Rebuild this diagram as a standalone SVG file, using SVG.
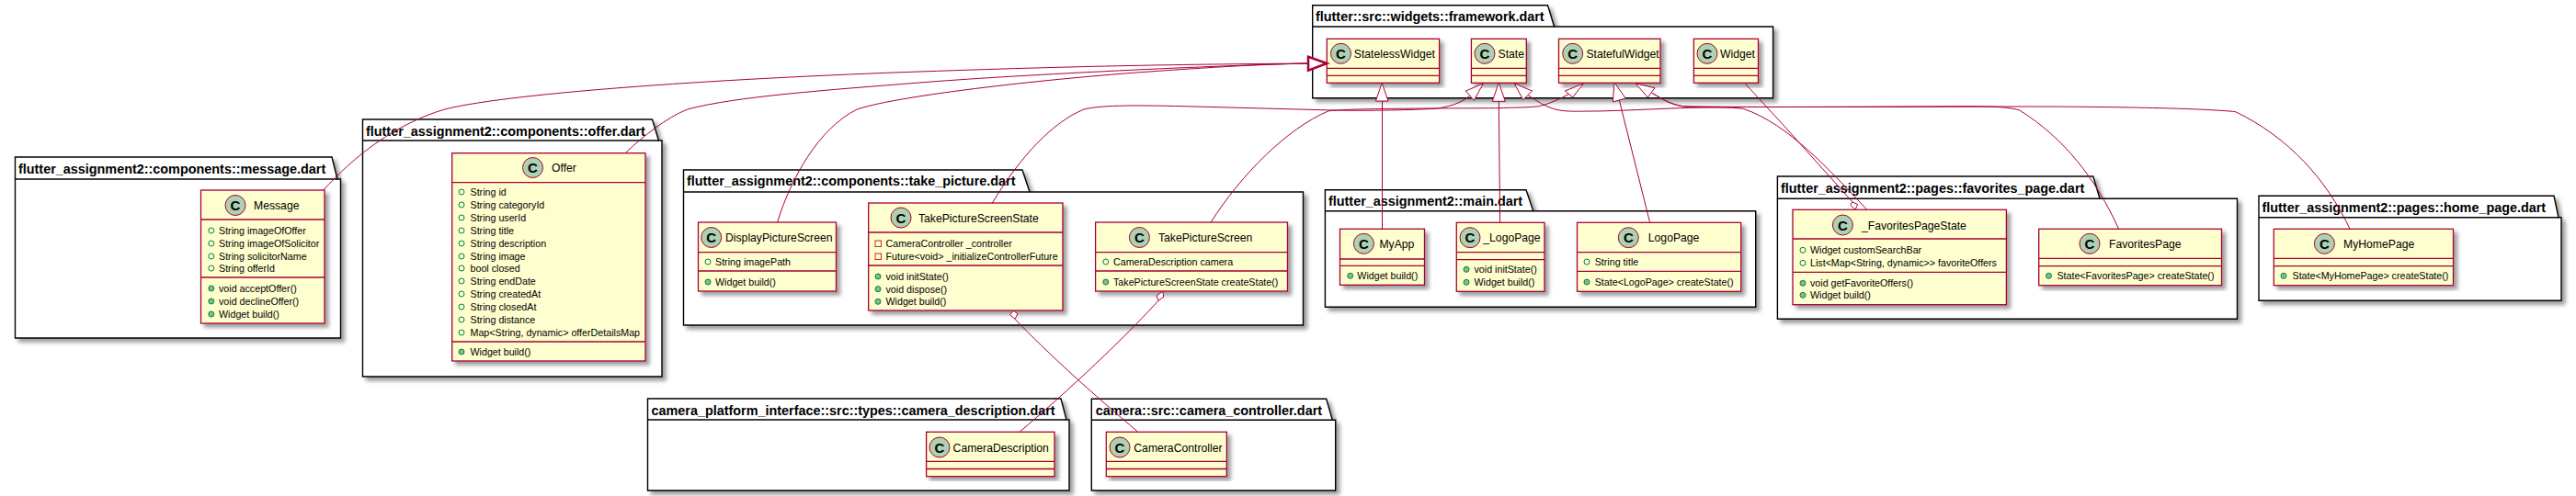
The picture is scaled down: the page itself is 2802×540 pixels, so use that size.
<svg xmlns="http://www.w3.org/2000/svg" width="2802" height="540" viewBox="0 0 2802 540">
<defs><filter id="sh" x="-5%" y="-5%" width="115%" height="115%"><feDropShadow dx="4" dy="4" stdDeviation="2" flood-color="#000" flood-opacity="0.38"/></filter></defs>
<style>
text{font-family:"Liberation Sans",Arial,sans-serif;fill:#000}
.pk{fill:#fff;stroke:#000;stroke-width:1.4;filter:url(#sh)}
.pl{fill:none;stroke:#000;stroke-width:1.4}
.pt{font-size:14.4px;font-weight:bold}
.cb{fill:#FEFECE;stroke:#A80036;stroke-width:1.3;filter:url(#sh)}
.d{stroke:#A80036;stroke-width:1.3;fill:none}
.ci{fill:#ADD1B2;stroke:#A80036;stroke-width:1}
.cl{font-size:15px;font-weight:bold;text-anchor:middle}
.n{font-size:12.2px}
.r{font-size:10.7px}
.a{fill:none;stroke:#038048;stroke-width:1}
.m{fill:#84BE84;stroke:#038048;stroke-width:1}
.p{fill:none;stroke:#C82930;stroke-width:1}
.e{fill:none;stroke:#A80036;stroke-width:1}
.h{fill:#fff;stroke:#A80036;stroke-width:1}
</style>
<g id="pkg-message"><path class="pk" d="M16.5,171H361L367,195H370.5V368H16.5Z"/><path class="pl" d="M16.5,195H367"/><text class="pt" x="20" y="188.5">flutter_assignment2::components::message.dart</text></g>
<g id="class-Message"><rect class="cb" x="218.5" y="207" width="134.5" height="145"/><path class="d" d="M218.5,239H353M218.5,302H353"/><circle class="ci" cx="256" cy="223.5" r="11"/><text class="cl" x="256" y="229">C</text><text class="n" x="276" y="228">Message</text>
<circle class="a" cx="229.8" cy="251" r="3"/><text class="r" x="238" y="255">String imageOfOffer</text><circle class="a" cx="229.8" cy="265" r="3"/><text class="r" x="238" y="269">String imageOfSolicitor</text><circle class="a" cx="229.8" cy="279" r="3"/><text class="r" x="238" y="283">String solicitorName</text><circle class="a" cx="229.8" cy="292" r="3"/><text class="r" x="238" y="296">String offerId</text>
<circle class="m" cx="229.8" cy="314" r="3"/><text class="r" x="238" y="318">void acceptOffer()</text><circle class="m" cx="229.8" cy="328" r="3"/><text class="r" x="238" y="332">void declineOffer()</text><circle class="m" cx="229.8" cy="342" r="3"/><text class="r" x="238" y="346">Widget build()</text></g>

<g id="pkg-offer"><path class="pk" d="M394.5,130H709.5L716.5,153H720V410H394.5Z"/><path class="pl" d="M394.5,153H716.5"/><text class="pt" x="398" y="147.5">flutter_assignment2::components::offer.dart</text></g>
<g id="class-Offer"><rect class="cb" x="491.7" y="166.7" width="210.3" height="226.3"/><path class="d" d="M491.7,198.7H702M491.7,372H702"/><circle class="ci" cx="579.5" cy="182.5" r="11"/><text class="cl" x="579.5" y="188">C</text><text class="n" x="600" y="187">Offer</text>
<circle class="a" cx="502" cy="209" r="3"/><text class="r" x="511.5" y="213">String id</text><circle class="a" cx="502" cy="223" r="3"/><text class="r" x="511.5" y="227">String categoryId</text><circle class="a" cx="502" cy="237" r="3"/><text class="r" x="511.5" y="241">String userId</text><circle class="a" cx="502" cy="251" r="3"/><text class="r" x="511.5" y="255">String title</text><circle class="a" cx="502" cy="265" r="3"/><text class="r" x="511.5" y="269">String description</text><circle class="a" cx="502" cy="279" r="3"/><text class="r" x="511.5" y="283">String image</text><circle class="a" cx="502" cy="292" r="3"/><text class="r" x="511.5" y="296">bool closed</text><circle class="a" cx="502" cy="306" r="3"/><text class="r" x="511.5" y="310">String endDate</text><circle class="a" cx="502" cy="320" r="3"/><text class="r" x="511.5" y="324">String createdAt</text><circle class="a" cx="502" cy="334" r="3"/><text class="r" x="511.5" y="338">String closedAt</text><circle class="a" cx="502" cy="348" r="3"/><text class="r" x="511.5" y="352">String distance</text><circle class="a" cx="502" cy="362" r="3"/><text class="r" x="511.5" y="366">Map&lt;String, dynamic&gt; offerDetailsMap</text>
<circle class="m" cx="502" cy="383" r="3"/><text class="r" x="511.5" y="387">Widget build()</text></g>

<g id="pkg-take-picture"><path class="pk" d="M743.5,185H1112L1120,209H1417.5V354H743.5Z"/><path class="pl" d="M743.5,209H1120"/><text class="pt" x="747" y="202">flutter_assignment2::components::take_picture.dart</text></g>
<g id="class-DisplayPictureScreen"><rect class="cb" x="759.5" y="242" width="150" height="75"/><path class="d" d="M759.5,274.7H909.5M759.5,295H909.5"/><circle class="ci" cx="773.7" cy="258.5" r="11"/><text class="cl" x="773.7" y="264">C</text><text class="n" x="789" y="263">DisplayPictureScreen</text>
<circle class="a" cx="770" cy="285" r="3"/><text class="r" x="778" y="289">String imagePath</text><circle class="m" cx="770" cy="307" r="3"/><text class="r" x="778" y="311">Widget build()</text></g>
<g id="class-TakePictureScreenState"><rect class="cb" x="944.7" y="221" width="211.3" height="117"/><path class="d" d="M944.7,253H1156M944.7,289H1156"/><circle class="ci" cx="980" cy="237" r="11"/><text class="cl" x="980" y="242.5">C</text><text class="n" x="999" y="241.5">TakePictureScreenState</text>
<rect class="p" x="952" y="262" width="6.5" height="6.5"/><text class="r" x="963.5" y="269.3">CameraController _controller</text><rect class="p" x="952" y="276" width="6.5" height="6.5"/><text class="r" x="963.5" y="283.3">Future&lt;void&gt; _initializeControllerFuture</text>
<circle class="m" cx="955" cy="301" r="3"/><text class="r" x="963.5" y="305.3">void initState()</text><circle class="m" cx="955" cy="314.7" r="3"/><text class="r" x="963.5" y="318.7">void dispose()</text><circle class="m" cx="955" cy="328.3" r="3"/><text class="r" x="963.5" y="332.3">Widget build()</text></g>
<g id="class-TakePictureScreen"><rect class="cb" x="1191.6" y="242" width="208.9" height="75"/><path class="d" d="M1191.6,274.7H1400.5M1191.6,295H1400.5"/><circle class="ci" cx="1239.4" cy="258.5" r="11"/><text class="cl" x="1239.4" y="264">C</text><text class="n" x="1260" y="263">TakePictureScreen</text>
<circle class="a" cx="1202.8" cy="285" r="3"/><text class="r" x="1211" y="289">CameraDescription camera</text><circle class="m" cx="1202.8" cy="307" r="3"/><text class="r" x="1211" y="311">TakePictureScreenState createState()</text></g>

<g id="pkg-camera-description"><path class="pk" d="M704.5,434H1154L1160,457H1163V534H704.5Z"/><path class="pl" d="M704.5,457H1160"/><text class="pt" x="708.5" y="451.5">camera_platform_interface::src::types::camera_description.dart</text></g>
<g id="class-CameraDescription"><rect class="cb" x="1007.6" y="470.3" width="139.4" height="48.4"/><path class="d" d="M1007.6,502.3H1147M1007.6,510.5H1147"/><circle class="ci" cx="1022" cy="487" r="11"/><text class="cl" x="1022" y="492.5">C</text><text class="n" x="1036.6" y="491.5">CameraDescription</text></g>
<g id="pkg-camera-controller"><path class="pk" d="M1187.3,434.3H1442.7L1449.3,457.3H1452.7V534H1187.3Z"/><path class="pl" d="M1187.3,457.3H1449.3"/><text class="pt" x="1191.7" y="451.5">camera::src::camera_controller.dart</text></g>
<g id="class-CameraController"><rect class="cb" x="1203.3" y="470.3" width="131" height="48.4"/><path class="d" d="M1203.3,502.3H1334.3M1203.3,510.5H1334.3"/><circle class="ci" cx="1218" cy="487" r="11"/><text class="cl" x="1218" y="492.5">C</text><text class="n" x="1233.3" y="491.5">CameraController</text></g>

<g id="pkg-framework"><path class="pk" d="M1427.7,5.7H1683.5L1690.6,29H1928.6V106.7H1427.7Z"/><path class="pl" d="M1427.7,29H1690.6"/><text class="pt" x="1431" y="23">flutter::src::widgets::framework.dart</text></g>
<g id="class-StatelessWidget"><rect class="cb" x="1443.3" y="42.3" width="122.3" height="48"/><path class="d" d="M1443.3,74.3H1565.6M1443.3,82.3H1565.6"/><circle class="ci" cx="1458.5" cy="58.3" r="11"/><text class="cl" x="1458.5" y="63.8">C</text><text class="n" x="1472.8" y="62.8">StatelessWidget</text></g>
<g id="class-State"><rect class="cb" x="1600.4" y="42.3" width="59.9" height="48"/><path class="d" d="M1600.4,74.3H1660.3M1600.4,82.3H1660.3"/><circle class="ci" cx="1615" cy="58.3" r="11"/><text class="cl" x="1615" y="63.8">C</text><text class="n" x="1629.5" y="62.8">State</text></g>
<g id="class-StatefulWidget"><rect class="cb" x="1695.5" y="42.3" width="110.5" height="48"/><path class="d" d="M1695.5,74.3H1806M1695.5,82.3H1806"/><circle class="ci" cx="1710.7" cy="58.3" r="11"/><text class="cl" x="1710.7" y="63.8">C</text><text class="n" x="1725.4" y="62.8">StatefulWidget</text></g>
<g id="class-Widget"><rect class="cb" x="1842.4" y="42.3" width="70.1" height="48"/><path class="d" d="M1842.4,74.3H1912.5M1842.4,82.3H1912.5"/><circle class="ci" cx="1857" cy="58.3" r="11"/><text class="cl" x="1857" y="63.8">C</text><text class="n" x="1871" y="62.8">Widget</text></g>

<g id="pkg-main"><path class="pk" d="M1441.4,206.7H1660L1667.8,229.7H1909.7V334.3H1441.4Z"/><path class="pl" d="M1441.4,229.7H1667.8"/><text class="pt" x="1445" y="223.5">flutter_assignment2::main.dart</text></g>
<g id="class-MyApp"><rect class="cb" x="1457.5" y="249.3" width="92" height="61"/><path class="d" d="M1457.5,282H1549.5M1457.5,289.3H1549.5"/><circle class="ci" cx="1483.4" cy="265.3" r="11"/><text class="cl" x="1483.4" y="270.8">C</text><text class="n" x="1500.4" y="270">MyApp</text><circle class="m" cx="1468.7" cy="300.3" r="3"/><text class="r" x="1476.3" y="304.3">Widget build()</text></g>
<g id="class-_LogoPage"><rect class="cb" x="1584.3" y="242.3" width="95.7" height="75"/><path class="d" d="M1584.3,274.7H1680M1584.3,282.7H1680"/><circle class="ci" cx="1599" cy="258.7" r="11"/><text class="cl" x="1599" y="264.2">C</text><text class="n" x="1613.3" y="263.2">_LogoPage</text><circle class="m" cx="1595" cy="293.3" r="3"/><text class="r" x="1603.5" y="297.3">void initState()</text><circle class="m" cx="1595" cy="307.3" r="3"/><text class="r" x="1603.5" y="311.3">Widget build()</text></g>
<g id="class-LogoPage"><rect class="cb" x="1715.5" y="242.3" width="178.2" height="75"/><path class="d" d="M1715.5,274.7H1893.7M1715.5,295.3H1893.7"/><circle class="ci" cx="1771.3" cy="258.7" r="11"/><text class="cl" x="1771.3" y="264.2">C</text><text class="n" x="1792.8" y="263.2">LogoPage</text><circle class="a" cx="1726" cy="285" r="3"/><text class="r" x="1734.7" y="289">String title</text><circle class="m" cx="1726" cy="307" r="3"/><text class="r" x="1734.7" y="311">State&lt;LogoPage&gt; createState()</text></g>

<g id="pkg-favorites"><path class="pk" d="M1933.4,192H2276.8L2284,216.3H2433.5V347.3H1933.4Z"/><path class="pl" d="M1933.4,216.3H2284"/><text class="pt" x="1937" y="209.5">flutter_assignment2::pages::favorites_page.dart</text></g>
<g id="class-_FavoritesPageState"><rect class="cb" x="1950" y="228.3" width="232.4" height="103.4"/><path class="d" d="M1950,260H2182.4M1950,296.3H2182.4"/><circle class="ci" cx="2004.4" cy="245" r="11"/><text class="cl" x="2004.4" y="250.5">C</text><text class="n" x="2025" y="249.5">_FavoritesPageState</text><circle class="a" cx="1961" cy="272.3" r="3"/><text class="r" x="1969" y="276.3">Widget customSearchBar</text><circle class="a" cx="1961" cy="286.3" r="3"/><text class="r" x="1969" y="290.3">List&lt;Map&lt;String, dynamic&gt;&gt; favoriteOffers</text><circle class="m" cx="1961" cy="308.3" r="3"/><text class="r" x="1969" y="312.3">void getFavoriteOffers()</text><circle class="m" cx="1961" cy="321.3" r="3"/><text class="r" x="1969" y="325.3">Widget build()</text></g>
<g id="class-FavoritesPage"><rect class="cb" x="2217.7" y="249.3" width="198.8" height="61.4"/><path class="d" d="M2217.7,281.3H2416.5M2217.7,289.7H2416.5"/><circle class="ci" cx="2273" cy="265.3" r="11"/><text class="cl" x="2273" y="270.8">C</text><text class="n" x="2294" y="270">FavoritesPage</text><circle class="m" cx="2228.5" cy="300.3" r="3"/><text class="r" x="2237.4" y="304.3">State&lt;FavoritesPage&gt; createState()</text></g>

<g id="pkg-home"><path class="pk" d="M2457,213.3H2778L2783,236.7H2786V327.3H2457Z"/><path class="pl" d="M2457,236.7H2783"/><text class="pt" x="2460.5" y="230.5">flutter_assignment2::pages::home_page.dart</text></g>
<g id="class-MyHomePage"><rect class="cb" x="2473.3" y="249.3" width="195.2" height="61.4"/><path class="d" d="M2473.3,281.3H2668.5M2473.3,289.7H2668.5"/><circle class="ci" cx="2528.4" cy="265.3" r="11"/><text class="cl" x="2528.4" y="270.8">C</text><text class="n" x="2549" y="270">MyHomePage</text><circle class="m" cx="2484" cy="300.3" r="3"/><text class="r" x="2493.5" y="304.3">State&lt;MyHomePage&gt; createState()</text></g>

<g id="connectors">
<path class="e" d="M351.6,207.3C385,170 430,135 483.7,119C560,100 800,85 1000,78S1300,70 1423,69"/>
<path class="e" d="M680.8,166C700,148 725,128 747.8,119C800,105 900,98 1000,90S1300,72 1423,69"/>
<path class="e" d="M845.6,242C860,195 890,140 932.3,119C980,103 1150,85 1250,78S1380,70 1423,69"/>
<polygon class="h" style="stroke-width:2.5" points="1443.3,69 1423,61.7 1423,76.7"/>
<path class="e" d="M1503.5,249V110"/><polygon class="h" points="1503.2,90.3 1496.4,110 1510,110"/>
<path class="e" d="M1078.9,221.7C1110,170 1145,133 1179,119C1200,114 1240,114.5 1300,116C1350,117 1400,119 1450,120C1500,121 1550,119 1560,118.3C1575,117 1590,112 1598.7,104.3"/>
<polygon class="h" points="1613.3,91 1594.3,99 1603.3,109.3"/>
<path class="e" d="M1631.6,242.3L1630.3,110.3"/><polygon class="h" points="1630.3,90 1623.3,110.3 1637.3,110.3"/>
<path class="e" d="M2030.7,228.3C1990,185 1945,135 1896.7,118.5C1870,114 1790,120 1736.7,121C1715,121 1705,122 1693,119.3C1680,116 1672,110 1661.7,103.3"/>
<polygon class="h" points="1647.3,91 1666.7,99 1656.7,108.7"/>
<path class="e" d="M1316.9,242.3C1350,190 1400,140 1444.6,121C1460,118 1550,118 1626.7,117.7C1650,117 1670,117 1676.7,115C1688,112 1698,107 1706.7,102.3"/>
<polygon class="h" points="1722.3,91 1702.3,99 1710.7,106"/>
<path class="e" d="M1794.5,241.7L1761.3,109"/><polygon class="h" points="1756,90 1754.3,111 1768.3,107"/>
<path class="e" d="M2304.6,249.3C2280,195 2245,150 2196.7,120C2180,115 2150,115.7 2100,116C2000,116.5 1900,117 1830,115.7C1815,113 1805,106 1796.7,101"/>
<path class="e" d="M2556,249C2530,195 2490,150 2431.7,121.7C2400,118 2300,116 2200,116L1900,116.5C1860,117 1840,117 1830,115.7C1815,113 1805,106 1796.7,101"/>
<polygon class="h" points="1779.3,91 1800,95.7 1792.3,106"/>
<path class="e" d="M1898.3,91L1943.3,140L2015,220"/><polygon class="h" points="2018,228.3 2012.5,223 2015,220 2020.7,222.5"/>
<path class="e" d="M1104,347.3C1140,385 1190,430 1237.5,470"/><polygon class="h" points="1102.3,338.3 1098.7,342.7 1104,347.3 1107,341.7"/>
<path class="e" d="M1260,327.3C1235,355 1180,410 1109.4,470"/><polygon class="h" points="1264.8,317.3 1258,322 1260,327.3 1265.7,323.3"/>
</g>
</svg>
